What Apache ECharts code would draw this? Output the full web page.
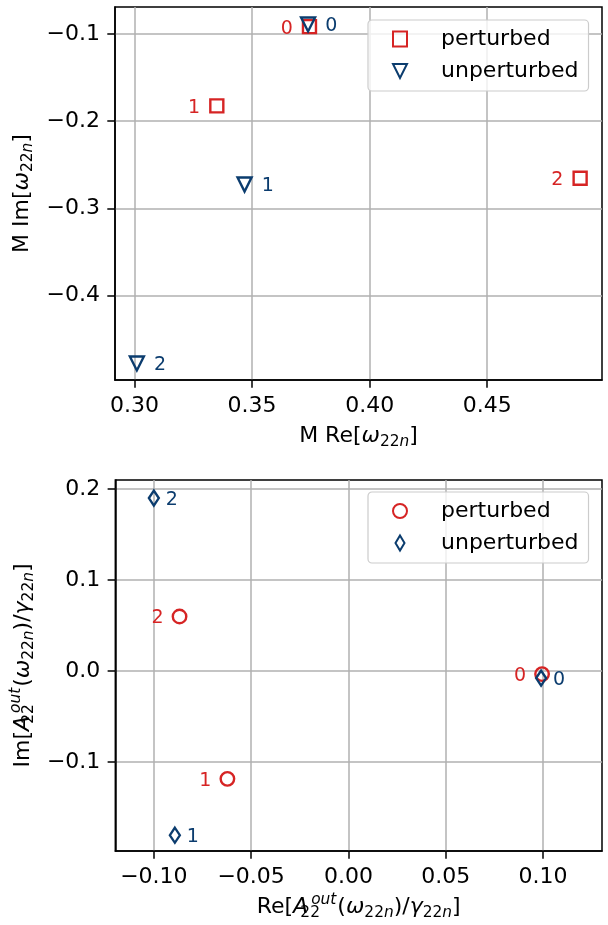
<!DOCTYPE html>
<html><head><meta charset="utf-8">
<script src="https://cdn.jsdelivr.net/npm/echarts@6/dist/echarts.min.js"></script>
<style>html,body{margin:0;padding:0;background:#fff}#c{width:608px;height:925px}</style>
</head><body><div id="c"></div>
<script>
// ---- data ----
const modeLabels = ['0', '1', '2'];
const topPertX = [0.3744, 0.3350, 0.4895];
const topPertY = [-0.0915, -0.1825, -0.2655];
const topUnpX = [0.3738, 0.3468, 0.3010];
const topUnpY = [-0.0890, -0.2727, -0.4780];
const botPertX = [0.0995, -0.0622, -0.0868];
const botPertY = [-0.0036, -0.1187, 0.0597];
const botUnpX = [0.0990, -0.0892, -0.1000];
const botUnpY = [-0.0080, -0.1806, 0.1898];
const topXTicks = [0.30, 0.35, 0.40, 0.45];
const topYTicks = [-0.4, -0.3, -0.2, -0.1];
const botXTicks = [-0.10, -0.05, 0.00, 0.05, 0.10];
const botYTicks = [-0.1, 0.0, 0.1, 0.2];
const legendNames = ['perturbed', 'unperturbed'];

const RED = '#d62424', BLUE = '#0b3c6e';
const FONT = 'DejaVu Sans';
const FS = 22, SFS = 15.4;

function fmt(d) {
  return function (v) {
    let s = Math.abs(v) < 1e-9 ? (0).toFixed(d) : Number(v).toFixed(d);
    return s.replace('-', '\u2212');
  };
}
function pts(xs, ys) { return xs.map((x, i) => ({ value: [x, ys[i]], name: modeLabels[i] })); }

const rich = {
  i: { fontSize: FS, fontStyle: 'italic', fontFamily: FONT, color: '#000' },
  s: { fontSize: SFS, fontFamily: FONT, color: '#000', padding: [10, 0, 0, 0] },
  si: { fontSize: SFS, fontFamily: FONT, fontStyle: 'italic', color: '#000', padding: [10, 0, 0, 0] },
  s0: { fontSize: SFS, fontFamily: FONT, color: '#000', padding: [10, 0, 0, 2], width: 0 },
  sup: { fontSize: SFS, fontFamily: FONT, fontStyle: 'italic', color: '#000', padding: [0, 1, 16, 1] }
};
const topXName = 'M Re[{i|ω}{s|22}{si|n}]';
const topYName = 'M Im[{i|ω}{s|22}{si|n}]';
const aPart = '{i|A}{s0|22}{sup|out}({i|ω}{s|22}{si|n})/{i|γ}{s|22}{si|n}]';
const botXName = 'Re[' + aPart;
const botYName = 'Im[' + aPart;

function xAxis(gi, min, max, ticks, d, name, gap) {
  return {
    type: 'value', gridIndex: gi, min: min, max: max,
    name: name, nameLocation: 'middle', nameGap: gap,
    nameTextStyle: { fontSize: FS, fontFamily: FONT, color: '#000', rich: rich },
    axisLine: { show: true, onZero: false, lineStyle: { color: '#000', width: 1.5 } },
    axisTick: { show: true, inside: false, length: 7.7, customValues: ticks, lineStyle: { color: '#000', width: 1.5 } },
    axisLabel: { show: true, customValues: ticks, margin: 15, formatter: fmt(d), fontSize: FS, fontFamily: FONT, color: '#000' },
    splitLine: { show: true, lineStyle: { color: '#b0b0b0', width: 1.5 } }
  };
}
function yAxis(gi, min, max, ticks, d, name, gap) {
  return {
    type: 'value', gridIndex: gi, min: min, max: max,
    name: name, nameLocation: 'middle', nameGap: gap, nameRotate: 90,
    nameTextStyle: { fontSize: FS, fontFamily: FONT, color: '#000', rich: rich },
    axisLine: { show: true, onZero: false, lineStyle: { color: '#000', width: 1.5 } },
    axisTick: { show: true, inside: false, length: 7.7, customValues: ticks, lineStyle: { color: '#000', width: 1.5 } },
    axisLabel: { show: true, customValues: ticks, margin: 15, formatter: fmt(d), fontSize: FS, fontFamily: FONT, color: '#000' },
    splitLine: { show: true, lineStyle: { color: '#b0b0b0', width: 1.5 } }
  };
}

const triDown = 'path://M0,0 L2,0 L1,2 Z';
const thinDiamond = 'path://M3,0 L6,5 L3,10 L0,5 Z';

function sc(name, gi, data, symbol, size, color, side, dist) {
  return {
    type: 'scatter', name: name, xAxisIndex: gi, yAxisIndex: gi,
    data: data, symbol: symbol, symbolSize: size,
    itemStyle: { color: 'rgba(255,255,255,0)', borderColor: color, borderWidth: 2.4, opacity: 1 },
    label: {
      show: true, position: side, distance: dist, offset: [0, 2],
      formatter: p => p.name, color: color, fontSize: 19, fontFamily: FONT
    },
    emphasis: { disabled: true }
  };
}

function legend(top, names, icons) {
  return {
    orient: 'vertical', left: 368, top: top,
    data: names.map((n, i) => ({ name: n, icon: icons[i] })),
    formatter: n => n.split('#')[0],
    itemWidth: 14, itemHeight: 15, itemGap: 10,
    padding: [8, 10, 9, 24],
    backgroundColor: 'rgba(255,255,255,0.8)', borderColor: '#cccccc', borderWidth: 1.2, borderRadius: 4,
    textStyle: { fontSize: FS, fontFamily: FONT, color: '#000', padding: [0, 0, 0, 29] },
    selectedMode: false
  };
}

const chart = echarts.init(document.getElementById('c'), null, { renderer: 'canvas' });
chart.setOption({
  animation: false,
  backgroundColor: '#fff',
  textStyle: { fontFamily: FONT },
  grid: [
    { left: 115, width: 487, top: 7, height: 373, show: true, borderColor: '#000', borderWidth: 1.5, backgroundColor: 'transparent' },
    { left: 115, width: 487, top: 480, height: 371, show: true, borderColor: '#000', borderWidth: 1.5, backgroundColor: 'transparent' }
  ],
  xAxis: [
    xAxis(0, 0.2917, 0.4988, topXTicks, 2, topXName, 44),
    xAxis(1, -0.1198, 0.1303, botXTicks, 2, botXName, 41)
  ],
  yAxis: [
    yAxis(0, -0.497, -0.069, topYTicks, 1, topYName, 80),
    yAxis(1, -0.198, 0.2097, botYTicks, 1, botYName, 74)
  ],
  legend: [
    legend(20, [legendNames[0] + '#t', legendNames[1] + '#t'], ['rect', triDown]),
    legend(492, [legendNames[0] + '#b', legendNames[1] + '#b'], ['circle', thinDiamond])
  ],
  series: [
    sc(legendNames[0] + '#t', 0, pts(topPertX, topPertY), 'rect', 13, RED, 'left', 9),
    sc(legendNames[1] + '#t', 0, pts(topUnpX, topUnpY), triDown, 14, BLUE, 'right', 9),
    sc(legendNames[0] + '#b', 1, pts(botPertX, botPertY), 'circle', 13.5, RED, 'left', 8),
    sc(legendNames[1] + '#b', 1, pts(botUnpX, botUnpY), thinDiamond, [10, 15], BLUE, 'right', 6)
  ]
});
</script></body></html>
